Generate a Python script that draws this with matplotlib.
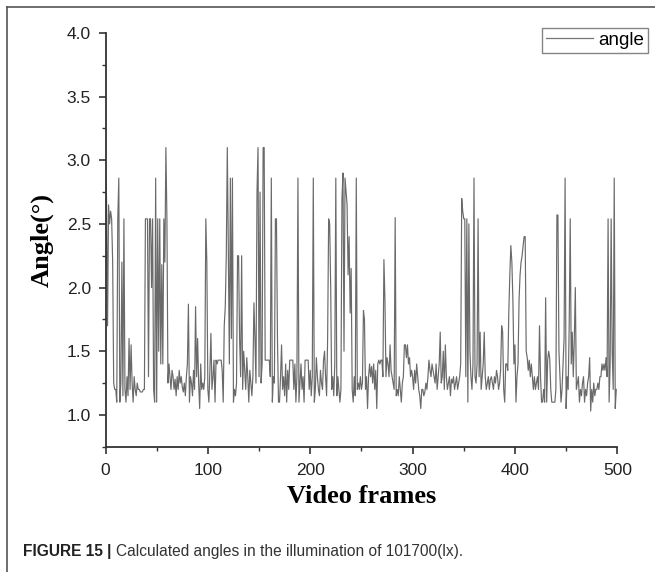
import matplotlib
matplotlib.use("Agg")
import matplotlib.pyplot as plt
from matplotlib.lines import Line2D
from matplotlib.ticker import MultipleLocator

# Angle values per video frame (10 frames per row)
angle = [
    2.9, 2.7, 1.7, 2.65, 2.5, 2.6, 2.54, 2.2, 1.25, 1.2,
    1.2, 1.1, 2.54, 2.86, 1.1, 1.25, 2.2, 1.15, 2.54, 1.2,
    1.1, 1.3, 1.15, 1.6, 1.2, 1.55, 1.25, 1.1, 1.3, 1.2,
    1.15, 1.25, 1.2, 1.2, 1.18, 1.18, 1.18, 1.2, 1.2, 2.54,
    2.54, 2.54, 1.3, 2.54, 2.54, 2.0, 2.54, 1.2, 1.1, 2.86,
    1.1, 2.54, 1.5, 2.54, 1.4, 2.18, 1.4, 2.54, 2.2, 3.1,
    2.54, 1.25, 1.4, 1.3, 1.2, 1.35, 1.3, 1.2, 1.28, 1.15,
    1.3, 1.2, 1.35, 1.25, 1.3, 1.22, 1.18, 1.25, 1.15, 1.3,
    1.4, 1.87, 1.1, 1.3, 1.25, 1.15, 1.35, 1.2, 1.85, 1.3,
    1.6, 1.25, 1.05, 1.4, 1.2, 1.25, 1.2, 1.3, 2.54, 2.2,
    1.2, 1.1, 1.35, 1.64, 1.2, 1.3, 1.43, 1.1, 1.43, 1.4,
    1.43, 1.43, 1.43, 1.43, 1.35, 1.1, 1.7, 1.85, 2.25, 3.1,
    2.3, 1.4, 2.86, 1.6, 2.86, 1.1, 1.2, 1.15, 1.25, 2.25,
    2.25, 1.6, 1.3, 2.25, 1.2, 1.5, 1.35, 1.2, 1.45, 1.3,
    1.1, 1.35, 1.25, 1.15, 1.3, 1.88, 1.6, 1.25, 2.75, 3.1,
    1.3, 2.75, 1.25, 1.4, 3.1, 3.1, 1.43, 1.43, 1.43, 1.43,
    1.43, 1.3, 2.86, 1.1, 1.3, 1.25, 2.54, 2.54, 1.6, 1.1,
    1.1, 1.3, 1.55, 1.2, 1.3, 1.15, 1.4, 1.1, 1.35, 1.2,
    1.43, 1.43, 1.43, 1.43, 1.2, 1.4, 1.1, 1.3, 2.86, 1.1,
    1.25, 1.4, 1.2, 1.3, 1.1, 1.43, 1.43, 1.43, 1.43, 1.2,
    1.35, 1.15, 1.3, 2.86, 1.1, 1.2, 1.45, 1.3, 1.2, 1.15,
    1.35, 1.25, 1.2, 1.43, 1.5, 1.3, 1.15, 1.6, 2.54, 2.5,
    2.0, 1.2, 1.3, 1.15, 1.4, 2.86, 1.15, 1.3, 1.2, 1.1,
    1.2, 2.7, 2.9, 1.5, 2.86, 2.75, 2.65, 2.1, 2.4, 1.8,
    2.15, 1.2, 1.1, 1.3, 1.15, 2.86, 1.2, 1.25, 1.2, 1.3,
    1.2, 1.25, 1.82, 1.75, 1.2, 1.3, 1.05, 1.3, 1.4, 1.3,
    1.38, 1.25, 1.4, 1.2, 1.35, 1.05, 1.4, 1.43, 1.4, 1.43,
    1.43, 1.3, 2.22, 1.9, 1.3, 1.45, 1.4, 1.3, 1.55, 1.35,
    1.3, 1.25, 1.2, 2.55, 1.15, 1.2, 1.15, 1.3, 1.2, 1.1,
    1.25, 1.3, 1.55, 1.55, 1.45, 1.55, 1.4, 1.45, 1.3, 1.35,
    1.3, 1.2, 1.35, 1.25, 1.4, 1.3, 1.2, 1.15, 1.05, 1.2,
    1.2, 1.15, 1.18, 1.25, 1.2, 1.3, 1.43, 1.35, 1.3, 1.4,
    1.35, 1.3, 1.25, 1.4, 1.2, 1.3, 1.4, 1.65, 1.25, 1.3,
    1.5, 1.2, 1.55, 1.3, 1.2, 1.25, 1.3, 1.15, 1.28, 1.25,
    1.3, 1.2, 1.25, 1.3, 1.2, 1.25, 1.3, 1.4, 2.7, 2.6,
    2.54, 2.54, 1.3, 2.54, 1.1, 2.5, 1.5, 1.3, 1.2, 1.4,
    2.86, 1.3, 1.25, 1.4, 2.54, 1.3, 1.65, 1.2, 1.3, 1.4,
    1.65, 1.3, 1.2, 1.25, 1.3, 1.2, 1.28, 1.3, 1.25, 1.2,
    1.3, 1.25, 1.35, 1.3, 1.2, 1.25, 1.35, 1.7, 1.65, 1.2,
    1.1, 1.4, 1.4, 1.35, 1.8, 2.1, 2.33, 2.2, 1.9, 1.4,
    1.55, 1.1, 1.3, 1.4, 1.9, 2.1, 2.2, 2.25, 2.33, 2.4,
    2.4, 1.5, 1.45, 1.35, 1.43, 1.3, 1.4, 1.3, 1.2, 1.3,
    1.2, 1.25, 1.3, 1.2, 1.7, 1.3, 1.1, 1.1, 1.2, 1.1,
    1.92, 1.1, 1.44, 1.5, 1.44, 1.2, 1.1, 1.1, 1.1, 1.1,
    1.2, 2.57, 2.57, 1.5, 1.3, 1.1, 1.2, 1.4, 1.6, 2.86,
    1.05, 1.3, 1.2, 1.7, 2.54, 1.4, 1.65, 1.3, 1.6, 2.0,
    1.2, 1.25, 1.3, 1.1, 1.2, 1.15, 1.25, 1.3, 1.1, 1.2,
    1.15, 1.25, 1.3, 1.45, 1.03, 1.2, 1.1, 1.25, 1.15, 1.2,
    1.2, 1.25, 1.2, 1.3, 1.3, 1.4, 1.35, 1.4, 1.35, 1.45,
    1.3, 2.54, 1.1, 1.4, 2.54, 1.5, 1.2, 2.86, 1.05, 1.2,
]
frames = list(range(len(angle)))

x_ticks = [0, 100, 200, 300, 400, 500]
y_ticks = [1.0, 1.5, 2.0, 2.5, 3.0, 3.5, 4.0]

W, H = 655, 572
fig = plt.figure(figsize=(W / 100, H / 100), dpi=100)
ax = fig.add_axes([105.5 / W, 1 - 446.7 / H, (617.3 - 105.5) / W, (446.7 - 33) / H])

ax.plot(frames, angle, color="#6a6a6a", lw=0.85, label="angle")

ax.set_xlim(0, 500)
ax.set_ylim(0.75, 4.0)
ax.set_xticks(x_ticks)
ax.set_yticks(y_ticks)
ax.set_yticklabels([f"{v:.1f}" for v in y_ticks])
ax.xaxis.set_minor_locator(MultipleLocator(50))
ax.yaxis.set_minor_locator(MultipleLocator(0.25))

for s in ["top", "right"]:
    ax.spines[s].set_visible(False)
for s in ["left", "bottom"]:
    ax.spines[s].set_linewidth(1.3)
    ax.spines[s].set_color("#333333")

ax.tick_params(axis="both", which="major", direction="out", length=5, width=1.2,
               color="#333333", labelcolor="#222222")
ax.tick_params(axis="both", which="minor", direction="out", length=3, width=1.0, color="#333333")
ax.tick_params(axis="y", pad=5.5)
ax.tick_params(axis="x", pad=7)
for lab in ax.get_xticklabels() + ax.get_yticklabels():
    lab.set_fontfamily("Liberation Sans")
    lab.set_fontsize(12.5)

ax.set_xlabel("Video frames", fontfamily="Liberation Serif", fontweight="bold", fontsize=19, labelpad=5)
ax.set_ylabel("Angle(°)", fontfamily="Liberation Serif", fontweight="bold", fontsize=19, labelpad=9)

leg = fig.legend(loc="upper right", bbox_to_anchor=(648 / W, 1 - 28 / H), borderaxespad=0,
                 fancybox=False, frameon=True, handlelength=2.5, handletextpad=0.3,
                 borderpad=0.2, prop={"family": "Liberation Sans", "size": 13.5})
leg.get_frame().set_edgecolor("#666666")
leg.get_frame().set_linewidth(1.0)
leg.get_lines()[0].set_color("#777777")
leg.get_lines()[0].set_linewidth(0.9)

# page frame lines (top and left)
fig.add_artist(Line2D([7 / W, 1.0], [1 - 7.3 / H, 1 - 7.3 / H], transform=fig.transFigure,
                      color="#555555", lw=1.2))
fig.add_artist(Line2D([7 / W, 7 / W], [1 - 7.3 / H, 0.0], transform=fig.transFigure,
                      color="#555555", lw=1.2))

# caption
t1 = fig.text(23 / W, 1 - 556 / H, "FIGURE 15 |", fontfamily="Liberation Sans", fontweight="bold",
              fontsize=11.2, color="#222222", va="baseline")
fig.canvas.draw()
bb = t1.get_window_extent()
fig.text(bb.x1 / W + 5 / W, 1 - 556 / H, "Calculated angles in the illumination of 101700(lx).",
         fontfamily="Liberation Sans", fontsize=11.2, color="#333333", va="baseline")

fig.savefig("out.png", dpi=100)
